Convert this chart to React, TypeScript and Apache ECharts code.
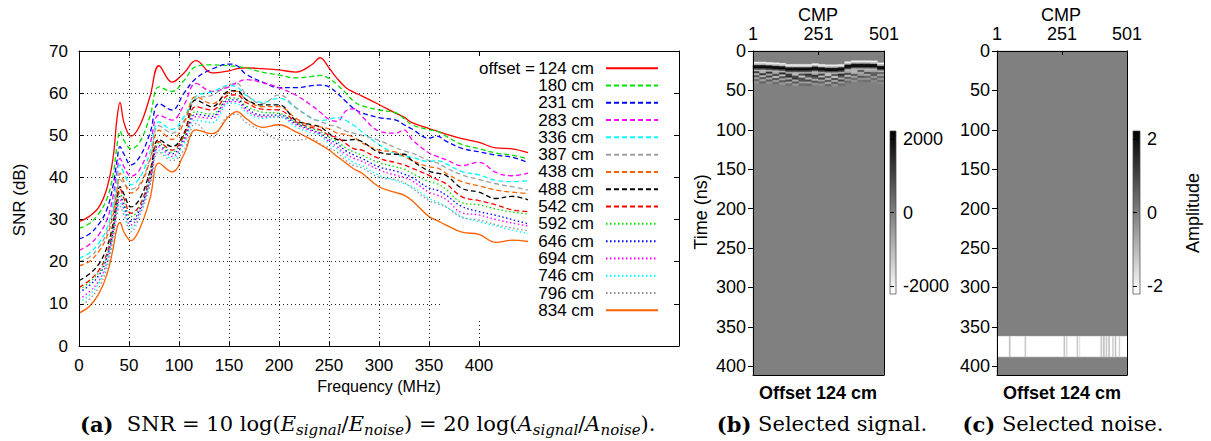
import React, { useEffect, useRef } from 'react';
import * as echarts from 'echarts';

// ---------- Panel (a): SNR curves ----------
const freqs = [0, 10, 20, 28, 34, 38, 41, 45, 52, 61, 71, 80, 93, 105, 117, 133, 150, 158, 167, 183, 200, 217, 233, 241, 250, 258, 267, 275, 283, 300, 317, 325, 333, 350, 358, 367, 383, 400, 417, 433, 449];
const offsetLabels = ['124 cm', '180 cm', '231 cm', '283 cm', '336 cm', '387 cm', '438 cm', '488 cm', '542 cm', '592 cm', '646 cm', '694 cm', '746 cm', '796 cm', '834 cm'];

const snr124 = [29.5, 30.7, 33.0, 37.5, 44.5, 54.0, 57.8, 53.0, 49.8, 52.4, 59.2, 66.5, 62.6, 64.8, 67.7, 64.8, 65.3, 65.8, 66.0, 65.8, 65.5, 65.0, 66.8, 68.4, 66.0, 63.5, 61.3, 60.2, 59.3, 57.3, 55.2, 54.3, 53.0, 51.6, 51.0, 50.3, 49.2, 48.3, 47.0, 46.8, 45.9];
const snr180 = [27.9, 29.0, 31.5, 35.0, 40.5, 47.5, 51.0, 48.8, 46.8, 48.5, 54.5, 61.5, 60.4, 63.0, 66.3, 66.7, 66.5, 66.3, 66.0, 65.0, 64.3, 63.6, 64.0, 64.2, 63.5, 62.0, 60.0, 58.0, 57.0, 56.0, 55.3, 54.0, 52.5, 51.3, 51.0, 49.8, 47.8, 46.8, 45.8, 45.3, 44.4];
const snr231 = [25.4, 26.5, 29.0, 32.5, 38.0, 44.0, 47.3, 45.5, 43.0, 45.0, 50.5, 57.5, 56.0, 60.0, 63.5, 65.7, 66.9, 66.5, 64.5, 62.7, 61.3, 61.3, 61.8, 61.9, 61.5, 60.0, 58.0, 56.3, 55.3, 54.2, 53.6, 52.5, 51.5, 49.3, 49.8, 48.6, 46.9, 46.1, 45.3, 44.8, 43.5];
const snr283 = [22.7, 24.0, 26.5, 30.0, 35.5, 41.5, 44.5, 42.5, 40.3, 42.0, 48.0, 54.8, 53.6, 57.2, 62.3, 60.4, 61.5, 62.5, 63.2, 62.5, 61.3, 59.5, 57.0, 55.5, 53.8, 53.3, 55.8, 56.3, 54.5, 51.0, 50.5, 51.3, 49.0, 45.8, 45.0, 44.2, 42.8, 43.6, 41.2, 40.4, 41.0];
const snr336 = [20.8, 22.0, 24.5, 28.0, 33.5, 39.5, 43.0, 41.0, 38.3, 40.0, 46.0, 53.2, 51.4, 54.4, 59.2, 60.3, 61.8, 61.5, 59.5, 57.8, 58.8, 56.5, 54.0, 53.5, 53.8, 54.2, 53.5, 52.3, 50.8, 47.8, 45.5, 45.0, 44.8, 43.8, 44.0, 43.2, 41.4, 40.6, 39.3, 39.0, 39.2];
const snr387 = [20.0, 21.0, 23.5, 27.0, 32.0, 37.0, 39.5, 38.5, 37.2, 38.5, 44.5, 52.3, 50.5, 53.5, 58.6, 59.5, 62.0, 62.3, 59.7, 57.5, 59.6, 56.5, 54.0, 53.3, 52.5, 52.0, 51.0, 50.5, 50.0, 48.8, 47.0, 46.3, 45.8, 44.0, 43.5, 42.3, 40.6, 39.5, 38.5, 37.8, 37.0];
const snr438 = [19.0, 20.0, 22.5, 26.0, 31.0, 37.0, 41.0, 39.0, 36.3, 38.0, 44.0, 51.2, 49.0, 53.0, 59.2, 57.5, 60.2, 60.4, 58.5, 56.8, 56.8, 54.0, 52.2, 52.0, 51.5, 50.5, 50.2, 49.5, 48.2, 46.5, 46.0, 45.0, 44.0, 42.5, 42.3, 41.0, 39.0, 38.0, 37.0, 36.5, 36.2];
const snr488 = [15.5, 17.0, 19.5, 23.5, 29.0, 35.0, 37.8, 36.0, 33.0, 35.0, 41.5, 49.0, 47.3, 50.5, 58.4, 56.8, 60.5, 60.6, 58.5, 57.2, 57.2, 53.5, 52.5, 52.0, 50.5, 49.0, 48.8, 49.0, 48.5, 46.0, 45.5, 45.5, 44.0, 41.5, 41.0, 40.5, 37.4, 36.5, 35.0, 35.5, 34.7];
const snr542 = [13.9, 15.5, 18.0, 22.0, 28.0, 34.5, 37.3, 35.0, 31.5, 33.5, 40.5, 48.5, 46.5, 50.0, 56.8, 56.0, 59.5, 59.6, 57.8, 56.2, 56.0, 53.2, 51.8, 51.3, 50.0, 49.5, 48.0, 46.8, 46.5, 44.5, 43.5, 43.0, 42.2, 40.5, 39.5, 38.5, 35.4, 34.5, 33.5, 32.3, 31.9];
const snr592 = [13.4, 15.0, 17.5, 21.5, 27.5, 34.0, 36.3, 34.0, 30.7, 33.0, 40.0, 48.2, 46.0, 49.5, 55.6, 55.0, 58.8, 58.8, 57.0, 55.5, 55.2, 53.0, 51.5, 51.0, 49.5, 48.5, 47.0, 46.0, 45.3, 43.5, 42.5, 42.0, 41.0, 39.0, 38.5, 37.2, 34.0, 33.5, 32.5, 31.8, 31.3];
const snr646 = [12.7, 14.3, 16.8, 21.0, 27.0, 33.3, 35.5, 33.3, 29.6, 32.5, 39.5, 47.6, 45.6, 49.0, 55.0, 54.5, 58.4, 58.4, 56.5, 54.8, 54.8, 52.8, 51.2, 50.5, 49.0, 48.0, 46.3, 45.3, 44.5, 42.5, 41.5, 40.8, 40.0, 37.5, 37.0, 35.8, 33.1, 31.9, 31.0, 30.0, 29.0];
const snr694 = [11.1, 12.8, 15.5, 20.0, 26.5, 32.5, 34.7, 32.5, 28.7, 32.0, 39.0, 47.2, 45.0, 48.5, 54.4, 54.0, 58.0, 58.0, 56.0, 54.4, 54.4, 52.5, 51.0, 50.3, 48.5, 47.3, 45.5, 44.5, 43.8, 41.8, 40.5, 40.0, 39.2, 36.5, 35.8, 34.8, 31.6, 31.1, 30.0, 29.2, 28.5];
const snr746 = [10.3, 12.0, 15.0, 19.5, 26.0, 32.0, 33.9, 32.0, 27.9, 31.5, 38.5, 46.4, 44.5, 48.0, 53.6, 53.0, 57.6, 57.5, 55.5, 54.0, 54.4, 52.0, 50.5, 50.0, 48.0, 46.8, 44.8, 43.5, 42.8, 40.5, 39.2, 38.5, 37.8, 35.0, 34.2, 33.1, 30.7, 29.5, 28.5, 27.5, 26.7];
const snr796 = [9.3, 11.0, 14.0, 18.5, 25.0, 31.0, 33.1, 31.0, 27.1, 31.0, 38.0, 46.0, 44.0, 46.5, 52.8, 49.5, 54.8, 55.0, 53.0, 51.0, 49.0, 48.8, 49.3, 48.0, 47.0, 46.0, 44.0, 42.8, 42.3, 40.0, 39.5, 38.8, 37.5, 34.5, 33.8, 33.0, 30.5, 29.9, 28.8, 28.0, 27.3];
const snr834 = [7.8, 9.3, 12.5, 17.0, 23.0, 28.0, 29.3, 27.0, 25.0, 28.0, 35.0, 43.4, 41.3, 45.5, 51.3, 50.4, 54.5, 55.6, 54.0, 51.9, 52.5, 50.8, 48.9, 47.8, 46.5, 45.0, 43.4, 42.0, 41.0, 37.8, 36.4, 35.8, 34.5, 30.7, 29.8, 28.7, 27.0, 26.5, 24.6, 25.1, 24.8];
const snrSeries = [snr124, snr180, snr231, snr283, snr336, snr387, snr438, snr488, snr542, snr592, snr646, snr694, snr746, snr796, snr834];

const freqTicks = [0, 50, 100, 150, 200, 250, 300, 350, 400];
const gridSnrLevels = [10, 20, 30, 40, 50, 60];
const gridFreqLevels = [50, 100, 150, 200, 250, 300, 350];

// ---------- Panels (b), (c): CMP sections ----------
const cmpTicks = [1, 251, 501];
const cmpRange = [1, 501];
const timeRange = [0, 411];
const cmpEdges = [1, 26, 51, 76, 101, 126, 151, 176, 201, 226, 251, 276, 301, 326, 351, 376, 401, 426, 451, 476, 501];
const pickTimes = [14, 14, 14.5, 15, 15.5, 17, 17, 17, 17, 16, 17, 17.5, 17.5, 17, 13.5, 12.3, 12.3, 12.3, 12.5, 15];
const waveletAmps = [-2000, -1200, 1800, 2200, 900, -1000];
const waveletStep = 2;
const scatterStep = 2.5;
const scatterAmps = [
  [1200, -900, 1400, -700, 1500, 1200, -1100, 900, 1400, -800, 1100, -1300, 800, 1500, -700, -1000, 700, -900, -700, 500],
  [-900, 1300, -700, 1100, -1000, 1400, 900, -1300, 700, 1300, -1000, 800, -1400, 700, 1000, -900, -700, 900, 500, -700],
  [700, -900, 1000, -1200, 900, -700, 1300, 800, -1000, 700, 1200, -900, 1000, -700, -900, 700, -500, -700, 700, 500],
  [-600, 800, -700, 900, -600, 1000, -800, 800, 1000, -800, -600, 800, -800, 1000, 600, -600, 700, 500, -500, -400],
  [500, -600, 700, -500, 700, -600, 700, -500, -600, 700, 500, -700, 600, -500, -400, 400, -400, -400, 400, 300],
  [-300, 400, -300, 300, -400, 300, -400, 300, 400, -300, -300, 400, -300, 300, 300, -300, 200, 300, -200, -200],
];
const signalScale = [-2220, 2220];
const signalTicks = [-2000, 0, 2000];

const noiseWindow = [362, 388];
const noiseBandAmp = -2.3;
const noiseStreaks = [
  [48, 52, -1.0], [108, 112, -1.2], [258, 262, -1.1], [268, 271, -1.4], [308, 312, -1.2], [318, 320, -1.5],
  [400, 404, -1.1], [410, 414, -0.9], [420, 424, -1.2], [430, 434, -1.0], [445, 449, -1.3], [455, 459, -1.1], [470, 474, -1.4],
];
const noiseScale = [-2.22, 2.22];
const noiseTicks = [-2, 0, 2];

// ---------- styles ----------
const lineColors = ['#ff0000', '#00e000', '#0000ff', '#ff00ff', '#00ffff', '#a0a0a0', '#ff6000', '#000000', '#ff0000', '#00e000', '#0000ff', '#ff00ff', '#00ffff', '#909090', '#ff6000'];
const DASH = [5, 3];
const DOT = [1.5, 2.5];
const lineDashes: any[] = ['solid', DASH, DASH, DASH, DASH, DASH, DASH, DASH, DASH, DOT, DOT, DOT, DOT, DOT, 'solid'];
const FONT = "'Liberation Sans', Arial, Helvetica, sans-serif";
const SERIF = "'DejaVu Serif', 'Liberation Serif', serif";

function buildSignalCells() {
  const cells: number[][] = [[cmpRange[0], cmpRange[1], timeRange[0], timeRange[1], 0]];
  for (let c = 0; c < pickTimes.length; c++) {
    const c0 = cmpEdges[c];
    const c1 = cmpEdges[c + 1];
    const p = pickTimes[c];
    waveletAmps.forEach((a, k) => {
      cells.push([c0, c1, p + k * waveletStep, p + (k + 1) * waveletStep, a]);
    });
    const base = p + waveletAmps.length * waveletStep;
    scatterAmps.forEach((row, r) => {
      cells.push([c0, c1, base + r * scatterStep, base + (r + 1) * scatterStep, row[c]]);
    });
  }
  return cells;
}

function buildNoiseCells() {
  const cells: number[][] = [[cmpRange[0], cmpRange[1], timeRange[0], timeRange[1], 0]];
  cells.push([cmpRange[0], cmpRange[1], noiseWindow[0], noiseWindow[1], noiseBandAmp]);
  noiseStreaks.forEach((s) => cells.push([s[0], s[1], noiseWindow[0], noiseWindow[1], s[2]]));
  return cells;
}

const cellRenderer = (range: number) => (_params: any, api: any) => {
  const a = api.coord([api.value(0), api.value(2)]);
  const b = api.coord([api.value(1), api.value(3)]);
  const v = Math.max(-1, Math.min(1, api.value(4) / range));
  const g = Math.round((255 * (1 - v)) / 2);
  const col = `rgb(${g},${g},${g})`;
  return {
    type: 'rect',
    shape: { x: Math.min(a[0], b[0]), y: Math.min(a[1], b[1]), width: Math.abs(b[0] - a[0]), height: Math.abs(b[1] - a[1]) },
    style: { fill: col, stroke: col, lineWidth: 0.4 },
  };
};

const colorbarRenderer = (_params: any, api: any) => {
  const a = api.coord([0, api.value(1)]);
  const b = api.coord([1, api.value(0)]);
  return {
    type: 'rect',
    shape: { x: a[0], y: a[1], width: b[0] - a[0], height: b[1] - a[1] },
    style: {
      fill: new echarts.graphic.LinearGradient(0, 0, 0, 1, [
        { offset: 0, color: '#000' },
        { offset: 1, color: '#fff' },
      ]),
      stroke: '#444',
      lineWidth: 0.7,
    },
  };
};

function buildOption() {
  const black = { color: '#000', width: 1 };
  const label17 = { fontSize: 17, fontFamily: FONT, color: '#000' };
  const label18 = { fontSize: 18, fontFamily: FONT, color: '#000' };
  const plain = (v: number) => String(v);

  const sectionAxes = (grid: number) => {
    const xs = [
      {
        gridIndex: grid, type: 'value', min: cmpRange[0], max: cmpRange[1], position: 'top', z: 6,
        axisLine: { show: true, onZero: false, lineStyle: black },
        axisTick: { show: true, inside: true, length: 4, customValues: cmpTicks, lineStyle: black },
        axisLabel: { show: true, customValues: cmpTicks, margin: 8, formatter: plain, ...label18 },
        splitLine: { show: false },
      },
      {
        gridIndex: grid, type: 'value', min: cmpRange[0], max: cmpRange[1], position: 'bottom', z: 6,
        axisLine: { show: true, onZero: false, lineStyle: black },
        axisTick: { show: false }, axisLabel: { show: false }, splitLine: { show: false },
      },
    ];
    const ys = [
      {
        gridIndex: grid, type: 'value', min: timeRange[0], max: timeRange[1], interval: 50, inverse: true, position: 'left', z: 6,
        axisLine: { show: true, onZero: false, lineStyle: black },
        axisTick: { show: true, inside: false, length: 5, lineStyle: black },
        axisLabel: { show: true, margin: 7, formatter: plain, ...label18 },
        splitLine: { show: false },
      },
      {
        gridIndex: grid, type: 'value', min: timeRange[0], max: timeRange[1], inverse: true, position: 'right', z: 6,
        axisLine: { show: true, onZero: false, lineStyle: black },
        axisTick: { show: false }, axisLabel: { show: false }, splitLine: { show: false },
      },
    ];
    return { xs, ys };
  };

  const cbAxes = (grid: number, scale: number[], ticks: number[]) => ({
    x: { gridIndex: grid, type: 'value', min: 0, max: 1, show: false },
    y: {
      gridIndex: grid, type: 'value', min: scale[0], max: scale[1], position: 'right', z: 6,
      axisLine: { show: false },
      axisTick: { show: true, inside: false, length: 4, customValues: ticks, lineStyle: black },
      axisLabel: { show: true, customValues: ticks, margin: 7, formatter: plain, ...label18 },
      splitLine: { show: false },
    },
  });

  const sb = sectionAxes(1);
  const sc = sectionAxes(3);
  const cbb = cbAxes(2, signalScale, signalTicks);
  const cbc = cbAxes(4, noiseScale, noiseTicks);

  const xAxis: any[] = [
    {
      gridIndex: 0, type: 'value', min: 0, max: 600, position: 'bottom', z: 4,
      axisLine: { show: true, onZero: false, lineStyle: black },
      axisTick: { show: true, inside: true, length: 5, customValues: freqTicks, lineStyle: black },
      axisLabel: { show: true, customValues: freqTicks, margin: 11, formatter: plain, ...label17 },
      splitLine: { show: false },
    },
    {
      gridIndex: 0, type: 'value', min: 0, max: 600, position: 'top', z: 4,
      axisLine: { show: true, onZero: false, lineStyle: black },
      axisTick: { show: true, inside: true, length: 5, customValues: freqTicks, lineStyle: black },
      axisLabel: { show: false }, splitLine: { show: false },
    },
    ...sb.xs, cbb.x, ...sc.xs, cbc.x,
  ];
  const yAxis: any[] = [
    {
      gridIndex: 0, type: 'value', min: 0, max: 70, interval: 10, position: 'left', z: 4,
      axisLine: { show: true, onZero: false, lineStyle: black },
      axisTick: { show: true, inside: true, length: 5, lineStyle: black },
      axisLabel: { show: true, margin: 11, formatter: plain, ...label17 },
      splitLine: { show: false },
    },
    {
      gridIndex: 0, type: 'value', min: 0, max: 70, interval: 10, position: 'right', z: 4,
      axisLine: { show: true, onZero: false, lineStyle: black },
      axisTick: { show: true, inside: true, length: 5, lineStyle: black },
      axisLabel: { show: false }, splitLine: { show: false },
    },
    ...sb.ys, cbb.y, ...sc.ys, cbc.y,
  ];

  const gridMarks: any[] = [
    ...gridSnrLevels.map((v) => [{ coord: [0, v] }, { coord: [362, v] }]),
    ...gridFreqLevels.map((f) => [{ coord: [f, 0] }, { coord: [f, 70] }]),
    [{ coord: [400, 0] }, { coord: [400, 6.2] }],
  ];

  const series: any[] = [
    {
      type: 'line', name: '__grid', xAxisIndex: 0, yAxisIndex: 0, data: [], z: 1, silent: true,
      markLine: {
        silent: true, animation: false, symbol: ['none', 'none'], label: { show: false },
        lineStyle: { color: '#222', type: [1, 3], width: 1 },
        emphasis: { disabled: true },
        data: gridMarks,
      },
    },
    ...offsetLabels.map((name, i) => ({
      type: 'line', name, xAxisIndex: 0, yAxisIndex: 0, z: 3,
      data: freqs.map((f, j) => [f, snrSeries[i][j]]),
      smooth: 0.4, symbol: 'none', showSymbol: false, silent: true,
      lineStyle: { color: lineColors[i], width: 1.3, type: lineDashes[i] },
      itemStyle: { color: lineColors[i] },
      emphasis: { disabled: true },
    })),
    {
      type: 'custom', name: '__signal', coordinateSystem: 'cartesian2d', xAxisIndex: 2, yAxisIndex: 2, z: 2, silent: true,
      renderItem: cellRenderer(signalScale[1]), data: buildSignalCells(),
    },
    {
      type: 'custom', name: '__cbb', coordinateSystem: 'cartesian2d', xAxisIndex: 4, yAxisIndex: 4, z: 2, silent: true,
      renderItem: colorbarRenderer, data: [signalScale],
    },
    {
      type: 'custom', name: '__noise', coordinateSystem: 'cartesian2d', xAxisIndex: 5, yAxisIndex: 5, z: 2, silent: true,
      renderItem: cellRenderer(noiseScale[1]), data: buildNoiseCells(),
    },
    {
      type: 'custom', name: '__cbc', coordinateSystem: 'cartesian2d', xAxisIndex: 7, yAxisIndex: 7, z: 2, silent: true,
      renderItem: colorbarRenderer, data: [noiseScale],
    },
  ];

  const txt = (text: string, x: number, y: number, extra: any = {}, rot = 0) => ({
    type: 'text', x, y, rotation: rot, silent: true,
    style: { text, fontFamily: FONT, fontSize: 16, fill: '#000', align: 'center', verticalAlign: 'middle', ...extra },
  });

  const rich = {
    b: { fontFamily: SERIF, fontSize: 21, fontWeight: 'bold', lineHeight: 26 },
    i: { fontFamily: SERIF, fontSize: 21, fontStyle: 'italic', lineHeight: 26 },
    s: { fontFamily: SERIF, fontSize: 15, fontStyle: 'italic', verticalAlign: 'bottom', lineHeight: 15 },
    r: { fontFamily: SERIF, fontSize: 21, lineHeight: 26 },
  };

  const graphic: any[] = [
    txt('SNR (dB)', 19, 200, { fontSize: 17 }, Math.PI / 2),
    txt('Frequency (MHz)', 379, 386),
    txt('offset =', 535, 68, { align: 'right', fontSize: 17 }),
    txt('CMP', 818, 15, { fontSize: 18 }),
    txt('CMP', 1061, 15, { fontSize: 18 }),
    txt('Time (ns)', 701, 212, { fontSize: 18 }, Math.PI / 2),
    txt('Amplitude', 1193, 213, { fontSize: 18 }, Math.PI / 2),
    txt('Offset 124 cm', 818, 393, { fontSize: 18, fontWeight: 'bold' }),
    txt('Offset 124 cm', 1062, 393, { fontSize: 18, fontWeight: 'bold' }),
    {
      type: 'text', x: 80, y: 424, silent: true,
      style: {
        text: '{b|(a)}{r|  SNR = 10 log(}{i|E}{s|signal}{r|/}{i|E}{s|noise}{r|) = 20 log(}{i|A}{s|signal}{r|/}{i|A}{s|noise}{r|).}',
        rich, fill: '#000', align: 'left', verticalAlign: 'middle', fontFamily: SERIF, fontSize: 21,
      },
    },
    {
      type: 'text', x: 822, y: 424, silent: true,
      style: { text: '{b|(b)}{r| Selected signal.}', rich, fill: '#000', align: 'center', verticalAlign: 'middle', fontFamily: SERIF, fontSize: 21 },
    },
    {
      type: 'text', x: 1063, y: 424, silent: true,
      style: { text: '{b|(c)}{r| Selected noise.}', rich, fill: '#000', align: 'center', verticalAlign: 'middle', fontFamily: SERIF, fontSize: 21 },
    },
  ];

  return {
    animation: false,
    backgroundColor: '#fff',
    textStyle: { fontFamily: FONT },
    grid: [
      { left: 79, top: 51, width: 600, height: 295, containLabel: false, outerBoundsMode: 'none' },
      { left: 753, top: 51, width: 131, height: 324, containLabel: false, outerBoundsMode: 'none' },
      { left: 890, top: 131, width: 6, height: 163, containLabel: false, outerBoundsMode: 'none' },
      { left: 997, top: 51, width: 130, height: 324, containLabel: false, outerBoundsMode: 'none' },
      { left: 1133, top: 131, width: 7, height: 163, containLabel: false, outerBoundsMode: 'none' },
    ],
    xAxis,
    yAxis,
    legend: {
      data: offsetLabels,
      orient: 'vertical',
      right: 1211 - 659,
      top: 59.5,
      align: 'right',
      itemWidth: 52,
      itemHeight: 10,
      itemGap: 0,
      padding: 0,
      selectedMode: false,
      itemStyle: { opacity: 0 },
      textStyle: { fontSize: 17, fontFamily: FONT, color: '#000', lineHeight: 17.3, padding: [0, 7, 0, 0] },
    },
    series,
    graphic,
  };
}

export default function App() {
  const ref = useRef<HTMLDivElement>(null);
  useEffect(() => {
    if (!ref.current) return;
    const chart = echarts.init(ref.current, null, { renderer: 'svg', width: 1211, height: 441 });
    chart.setOption(buildOption() as any);
    return () => chart.dispose();
  }, []);
  return (
    <div
      ref={ref}
      style={{ position: 'fixed', left: 0, top: 0, width: 1211, height: 441, background: '#fff' }}
    />
  );
}
